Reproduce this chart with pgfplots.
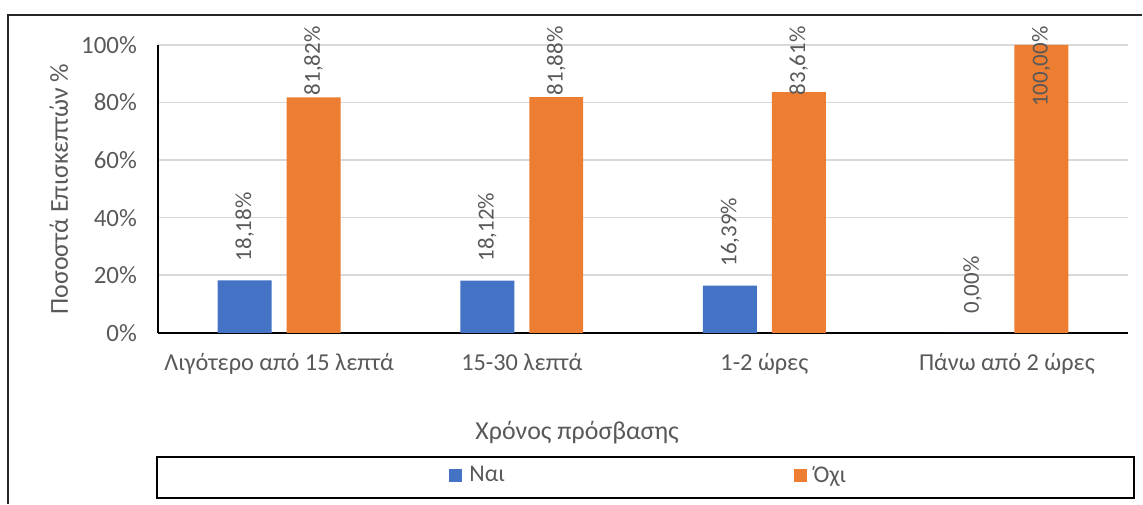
\documentclass[border=0pt]{standalone}
\usepackage{fontspec}
\setmainfont{Carlito}
\usepackage{pgfplots}
\pgfplotsset{compat=1.18}

\definecolor{xlblue}{HTML}{4472C4}
\definecolor{xlorange}{HTML}{ED7D31}
\definecolor{xltext}{HTML}{595959}
\definecolor{xlgrid}{HTML}{D9D9D9}

\begin{document}
\begin{tikzpicture}[x=1bp,y=1bp]
% page size and outer frame (left and top edges only are visible)
\path (0,0) rectangle (571.5,252);
\draw[line width=0.8bp, black!85] (4,0) -- (4,244.5) -- (571.5,244.5);

\begin{axis}[
    at={(79bp,85.5bp)}, anchor=south west,
    scale only axis,
    width=485.5bp, height=144bp,
    xmin=-0.5, xmax=3.5,
    ymin=0, ymax=100,
    enlargelimits=false,
    clip=false,
    axis x line*=bottom,
    axis y line*=left,
    axis line style={-, black, line width=0.9bp},
    major tick length=0pt,
    ytick={0,20,40,60,80,100},
    yticklabel={\pgfmathprintnumber{\tick}\%},
    /pgf/number format/assume math mode=true,
    xtick={0,1,2,3},
    xticklabels={Λιγότερο από 15 λεπτά, 15-30 λεπτά, 1-2 ώρες, Πάνω από 2 ώρες},
    ymajorgrids=true,
    grid style={xlgrid, line width=0.75bp},
    yticklabel style={font=\fontsize{12.5}{14}\selectfont, text=xltext, xshift=-7bp},
    xticklabel style={font=\fontsize{12.2}{14}\selectfont, text=xltext, anchor=base, yshift=-19bp},
    legend columns=2,
    legend style={at={(0.507,-0.497)}, anchor=center, draw=none, fill=none,
        font=\fontsize{12}{14}\selectfont, text=xltext,
        /tikz/every even column/.append style={column sep=142.5bp}},
    legend image code/.code={\fill[#1] (0bp,-3.25bp) rectangle (6.5bp,3.25bp); \path (8bp,0bp);},
    every node near coord/.style={rotate=90, font=\fontsize{11.5}{13}\selectfont, text=xltext},
]
\addplot[ybar, bar width=27bp, bar shift=-17.25bp, fill=xlblue, draw=none]
    coordinates {(0,18.18) (1,18.12) (2,16.39) (3,0)};
\addlegendentry{Ναι}
\addplot[ybar, bar width=27bp, bar shift=17.25bp, fill=xlorange, draw=none]
    coordinates {(0,81.82) (1,81.88) (2,83.61) (3,100)};
\addlegendentry{Όχι}
% value labels: "Ναι" a little above its bar, "Όχι" against the top of the plot area
\addplot[forget plot, draw=none, mark=none, point meta=explicit,
    nodes near coords={\pgfmathprintnumber[fixed, fixed zerofill, precision=2, use comma]{\pgfplotspointmeta}\%},
    nodes near coords style={anchor=west, inner xsep=0.5bp}]
    coordinates {(-0.142,24.4) [18.18] (0.858,24.3) [18.12] (1.858,22.6) [16.39] (2.858,6.2) [0]};
\addplot[forget plot, draw=none, mark=none, point meta=explicit,
    nodes near coords={\pgfmathprintnumber[fixed, fixed zerofill, precision=2, use comma]{\pgfplotspointmeta}\%},
    nodes near coords style={anchor=east, inner xsep=0.5bp}]
    coordinates {(0.142,106.9) [81.82] (1.142,106.9) [81.88] (2.142,106.9) [83.61] (3.142,106.9) [100]};
\end{axis}

% axis titles
\node[rotate=90, text=xltext, font=\fontsize{13}{15}\selectfont] at (29.5,157.5) {Ποσοστά Επισκεπτών \%};
\node[text=xltext, font=\fontsize{13}{15}\selectfont] at (288.75,35.5) {Χρόνος πρόσβασης};
% legend frame
\draw[line width=1bp, black] (78.5,3) rectangle (567.5,23.5);
\end{tikzpicture}
\end{document}
